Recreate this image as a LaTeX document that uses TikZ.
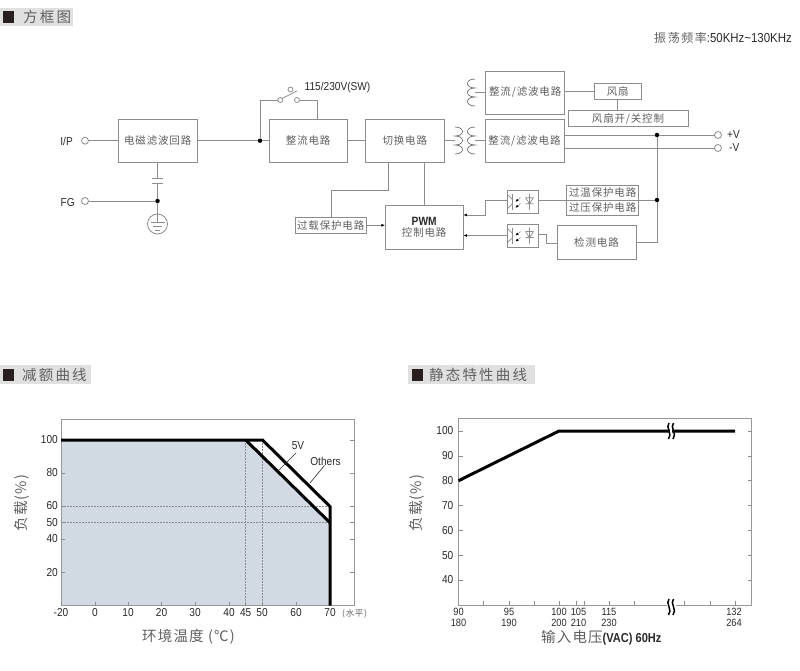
\documentclass[tikz,border=0pt]{standalone}
\usepackage{fontspec}
\usetikzlibrary{arrows.meta}
\setmainfont{Liberation Sans}
\newfontfamily\lat[FakeStretch=.88]{Liberation Sans}
\newfontfamily\latb[FakeStretch=.85]{Liberation Sans Bold}
\newfontfamily\cjk[LetterSpace=8]{Noto Sans CJK SC}
\newfontfamily\cjkwide[LetterSpace=15]{Noto Sans CJK SC}
\newfontfamily\cjkaxis[LetterSpace=8]{Noto Sans CJK SC}
\definecolor{ln}{HTML}{8C8C8C}
\definecolor{dk}{HTML}{2A2A2A}
\definecolor{cj}{HTML}{606060}
\definecolor{barg}{HTML}{E0E0E0}
\definecolor{sq}{HTML}{2A1F1F}
\definecolor{area}{HTML}{D1DAE2}
\tikzset{
  x=1pt,y=-1pt,
  blk/.style={draw=ln,line width=.9pt,inner sep=0pt,outer sep=0pt,font=\cjk\fontsize{10.5}{12}\selectfont,text=cj,align=center},
  wire/.style={draw=ln,line width=.9pt},
  term/.style={circle,draw=ln,line width=.8pt,fill=white,minimum size=7pt,inner sep=0pt,outer sep=0pt},
  jun/.style={circle,fill=black,minimum size=4.5pt,inner sep=0pt,outer sep=0pt},
  lbl/.style={font=\lat\fontsize{11.5}{12}\selectfont,text=dk,inner sep=0pt},
  cjkl/.style={font=\cjk\fontsize{10}{12}\selectfont,text=cj,inner sep=0pt},
  ttl/.style={font=\cjkwide\fontsize{14.5}{16}\selectfont,text=cj,inner sep=0pt,anchor=west},
  axl/.style={font=\cjkaxis\fontsize{14.5}{15}\selectfont,text=cj,inner sep=0pt},
  tick/.style={draw=ln,line width=.7pt},
  dots/.style={draw=ln,line width=.6pt,dash pattern=on 1.5pt off 1.5pt},
  thick line/.style={draw=black,line width=3pt,line cap=butt,line join=miter},
  arr/.style={wire,-{Latex[length=3.5pt,width=3pt,black]}},
  opto/.pic={
    \draw[draw=ln,line width=.7pt] (-10,-8)--(-10,8);
    \draw[draw=ln,line width=.7pt] (-15,-7)--(-10,-2) (-10,2)--(-15,7);
    \draw[-{Latex[length=3pt,width=3pt,black]},draw=ln,line width=.6pt] (-2,-4)--(-7,0);
    \draw[-{Latex[length=3pt,width=3pt,black]},draw=ln,line width=.6pt] (-2,2)--(-7,6);
    \draw[draw=ln,line width=.7pt] (7,-8)--(7,8) (3,-4)--(11,-4) (3,-4)--(7,2)--(11,-4) (3,2)--(11,2);
  },
  coil/.pic={
    \draw[draw=dk!80,line width=.6pt] (0,-13.5) .. controls (-10,-13.5) and (-10,-4.5) .. (0,-4.5)
      .. controls (-10,-4.5) and (-10,4.5) .. (0,4.5)
      .. controls (-10,4.5) and (-10,13.5) .. (0,13.5);
  },
  brk/.pic={
    \fill[white] (-1.3,-6) rectangle (1.3,6);
    \draw[draw=black,line width=1.5pt] (-2,-8) .. controls (-6,-4) and (2,3) .. (-2.5,8);
    \draw[draw=black,line width=1.5pt] (2.5,-8) .. controls (-1.5,-4) and (6.5,3) .. (2,8);
  }
}
\begin{document}
\begin{tikzpicture}
\useasboundingbox (0,0) rectangle (800,671);
\fill[white] (0,0) rectangle (800,671);

% headings
\fill[barg] (0,8) rectangle (73,26);
\fill[sq] (3,11) rectangle (14,23);
\node[ttl] (t1) at (23,17) {方框图};
\fill[barg] (0,365) rectangle (91,384);
\fill[sq] (3,369) rectangle (14,381);
\node[ttl] (t2) at (22,375) {减额曲线};
\fill[barg] (408,365) rectangle (535,384);
\fill[sq] (412,369) rectangle (423,381);
\node[ttl] (t3) at (429,375) {静态特性曲线};

\node[anchor=east,inner sep=0pt] (freq) at (792,38) {{\cjk\fontsize{12}{12}\selectfont\addfontfeature{LetterSpace=13}\color{cj}振荡频率}{\lat\fontsize{13}{12}\selectfont\color{dk}:50KHz\textasciitilde130KHz}};

% boxes
\node[blk,minimum width=78.5pt,minimum height=43pt] (emi) at (157.7,140.7) {电磁滤波回路};
\node[blk,minimum width=78.5pt,minimum height=43pt] (rec) at (308.2,140.7) {整流电路};
\node[blk,minimum width=78.5pt,minimum height=43pt] (swc) at (404.8,140.7) {切换电路};
\node[blk,minimum width=79pt,minimum height=43pt] (ra) at (525.2,92.5) {整流/滤波电路};
\node[blk,minimum width=79pt,minimum height=43pt] (rb) at (524.5,140.7) {整流/滤波电路};
\node[blk,minimum width=46.5pt,minimum height=15.5pt] (fan) at (617.7,91.3) {风扇};
\node[blk,minimum width=120pt,minimum height=15.5pt] (fanc) at (628,118.7) {风扇开/关控制};
\node[blk,minimum width=71.5pt,minimum height=16.5pt] (ovl) at (330.7,225.3) {过载保护电路};
\node[blk,minimum width=78.5pt,minimum height=43.5pt,font=\fontsize{10}{12}\selectfont] (pwm) at (424.2,227.2) {{\latb\fontsize{12}{13}\selectfont\color{dk}PWM}\\[-.5pt]{\cjk\fontsize{10.5}{12}\selectfont\color{cj}控制电路}};
\node[blk,minimum width=31pt,minimum height=23pt] (opa) at (522.5,201.7) {};
\node[blk,minimum width=31pt,minimum height=23pt] (opb) at (522.5,235.5) {};
\node[blk,minimum width=72pt,minimum height=15pt] (otp) at (602.7,192.5) {过温保护电路};
\node[blk,minimum width=72pt,minimum height=15pt] (ovp) at (602.7,207.5) {过压保护电路};
\node[blk,minimum width=79pt,minimum height=33.5pt] (det) at (596.5,242.5) {检测电路};
\pic at (opa.center) {opto};
\pic at (opb.center) {opto};

% terminals
\node[term] (ip) at (85,140.7) {};
\node[term] (fg) at (85,201) {};
\node[term] (pv) at (718,135) {};
\node[term] (nv) at (718,148) {};
\node[lbl,anchor=east] (lip) at (73,141) {I/P};
\node[lbl,anchor=east] (lfg) at (75,202.5) {FG};
\node[lbl,anchor=west] (lpv) at (727,134.5) {+V};
\node[lbl,anchor=west] (lnv) at (729,147.5) {-V};
\node[lbl,anchor=west] (lsw) at (304.5,87.5) {115/230V(SW)};

% junctions
\node[jun] (j1) at (260,140.7) {};
\node[jun] (j2) at (157.5,201) {};
\node[jun] (j3) at (657,135) {};
\node[jun] (j4) at (657,200) {};

% left part
\draw[wire] (ip) -- (emi);
\draw[wire] (emi) -- (j1) -- (rec);
\draw[wire] (rec) -- (swc);
\draw[wire] (fg) -- (j2);

% capacitor and earth
\coordinate (capa) at (157.5,178.5);
\coordinate (capb) at (157.5,183);
\node[circle,draw=ln,line width=.8pt,minimum size=20pt,inner sep=0pt,outer sep=0pt] (gnd) at (157.5,224) {};
\draw[wire] (emi.south -| capa) -- (capa);
\draw[wire] (capb) -- (j2);
\draw[wire] (j2) -- (157.5,222);
\draw[wire] (151.7,178.5) -- (163.3,178.5) (151.7,183) -- (163.3,183);
\draw[draw=ln,line width=.7pt] (150.5,222) -- (164.5,222) (153,226) -- (162,226) (155,230) -- (160,230);

% mains switch
\node[term,minimum size=5pt] (swa) at (280.3,100) {};
\node[term,minimum size=5pt] (swb) at (297,100) {};
\node[term,minimum size=5pt] (swc2) at (290.5,89.5) {};
\draw[wire] (j1) |- (swa);
\draw[wire] (swb) -- (317,100) -- (317,119.2);
\draw[draw=ln,line width=.8pt] (282,98.5) -- (297,91);

% transformer
\pic[xscale=-1] at (455,140.5) {coil};
\pic at (475,140.5) {coil};
\pic at (475,92.5) {coil};
\coordinate (tl) at (455,140.7);
\coordinate (tr) at (475,140.7);
\coordinate (tt) at (475,92.5);
\draw[wire] (swc) -- (tl);
\draw[wire] (tr) -- (rb);
\draw[wire] (tt) -- (ra);

% secondary
\draw[wire] (ra.east |- fan) -- (fan);
\draw[wire] (fan) -- (fan |- fanc.north);
\draw[wire] (rb.east |- pv) -- (j3) -- (pv);
\draw[wire] (rb.east |- nv) -- (nv);
\draw[wire] (j3) -- (j4) -- (657,242.5) -- (det);
\draw[wire] (opa.east |- j4) -- (j4);

% feedback
\coordinate (sa) at (388,162);
\coordinate (sb) at (424,162);
\draw[wire] (sa) |- (331,190) -- (331,217);
\draw[wire] (sb) -- (pwm.north -| sb);
\draw[arr] (ovl.east) -- (pwm.west |- ovl.east);
\draw[arr] (opa.west |- j4) -- (485,200) -- (485,215) -- (pwm.east |- 0,215);
\draw[arr] (opb) -- (pwm.east |- opb);
\draw[wire] (opb.east |- 0,234) -- (546,234) -- (546,243) -- (det.west |- 0,243);

% ---- derating chart
\fill[area] (61,440) -- (245.7,440) -- (329.7,522.7) -- (329.7,605.7) -- (61,605.7) -- cycle;
\draw[draw=ln!90,line width=.8pt] (61,419) rectangle (354,605.7);
\foreach \yv/\yl in {440/100,473/80,506/60,522.7/50,539/40,572.5/20}{
  \draw[tick] (61,\yv) -- (65,\yv) (350,\yv) -- (354,\yv);
  \node[lbl,anchor=east] at (58,\yv) {\yl};
}
\foreach \xv/\xl in {61/-20,95/0,128/10,161.5/20,195/30,229/40,245.7/45,262/50,296/60,330/70}{
  \draw[tick] (\xv,605.7) -- (\xv,601.7);
  \node[lbl] at (\xv,613) {\xl};
}
\draw[dots] (61,506) -- (330,506) (61,522.7) -- (330,522.7);
\draw[dots] (245.7,440) -- (245.7,605.7) (262,440) -- (262,605.7);
\draw[thick line] (61,440) -- (262.5,440) -- (330,506.5) -- (330,605.7);
\draw[thick line] (245.7,440) -- (330,522.7);
\node[lbl] (l5v) at (298,445.5) {5V};
\node[lbl] (loth) at (325.5,461) {Others};
\coordinate (l5a) at (279,470);
\coordinate (oa) at (310,483);
\draw[draw=dk,line width=.6pt] (296,453) -- (l5a);
\draw[draw=dk,line width=.6pt] (loth.south) ++(-1,0) -- (oa);
\node[cjkl,anchor=west,font=\cjk\fontsize{8.5}{10}\selectfont] at (342,613.5) {(水平)};
\node[axl] at (188.5,637) {环境温度 (℃)};
\node[axl,rotate=90] at (22,503) {负载(\%)};

% ---- static chart
\draw[draw=ln!90,line width=.8pt] (458.5,418.7) rectangle (751.7,605.3);
\foreach \yv/\yl in {431/100,456/90,480.7/80,505.7/70,530.5/60,555.5/50,580/40}{
  \draw[tick] (458.5,\yv) -- (462.5,\yv) (747.7,\yv) -- (751.7,\yv);
  \node[lbl,anchor=east] at (453.5,\yv) {\yl};
}
\foreach \xv in {483.5,509,534,559,576,584,609,634,684,710,735}{
  \draw[tick] (\xv,605.3) -- (\xv,601.3);
}
\foreach \xv/\xl/\xm in {458.5/90/180,509/95/190,559/100/200,578.5/105/210,609/115/230,734/132/264}{
  \node[lbl,align=center,font=\lat\fontsize{10.5}{11}\selectfont] at (\xv,617.5) {\xl\\\xm};
}
\draw[thick line] (458.5,480.7) -- (559,431) -- (735,431);
\pic at (671,431) {brk};
\fill[white] (667,603) rectangle (676,607);
\pic at (671,607) {brk};
\node[axl,anchor=west,inner sep=0pt] (xl2) at (541,637.5) {输入电压{\latb\fontsize{13}{13}\selectfont\color{dk}(VAC) 60Hz}};
\node[axl,rotate=90] at (417,503) {负载(\%)};
\end{tikzpicture}
\end{document}
